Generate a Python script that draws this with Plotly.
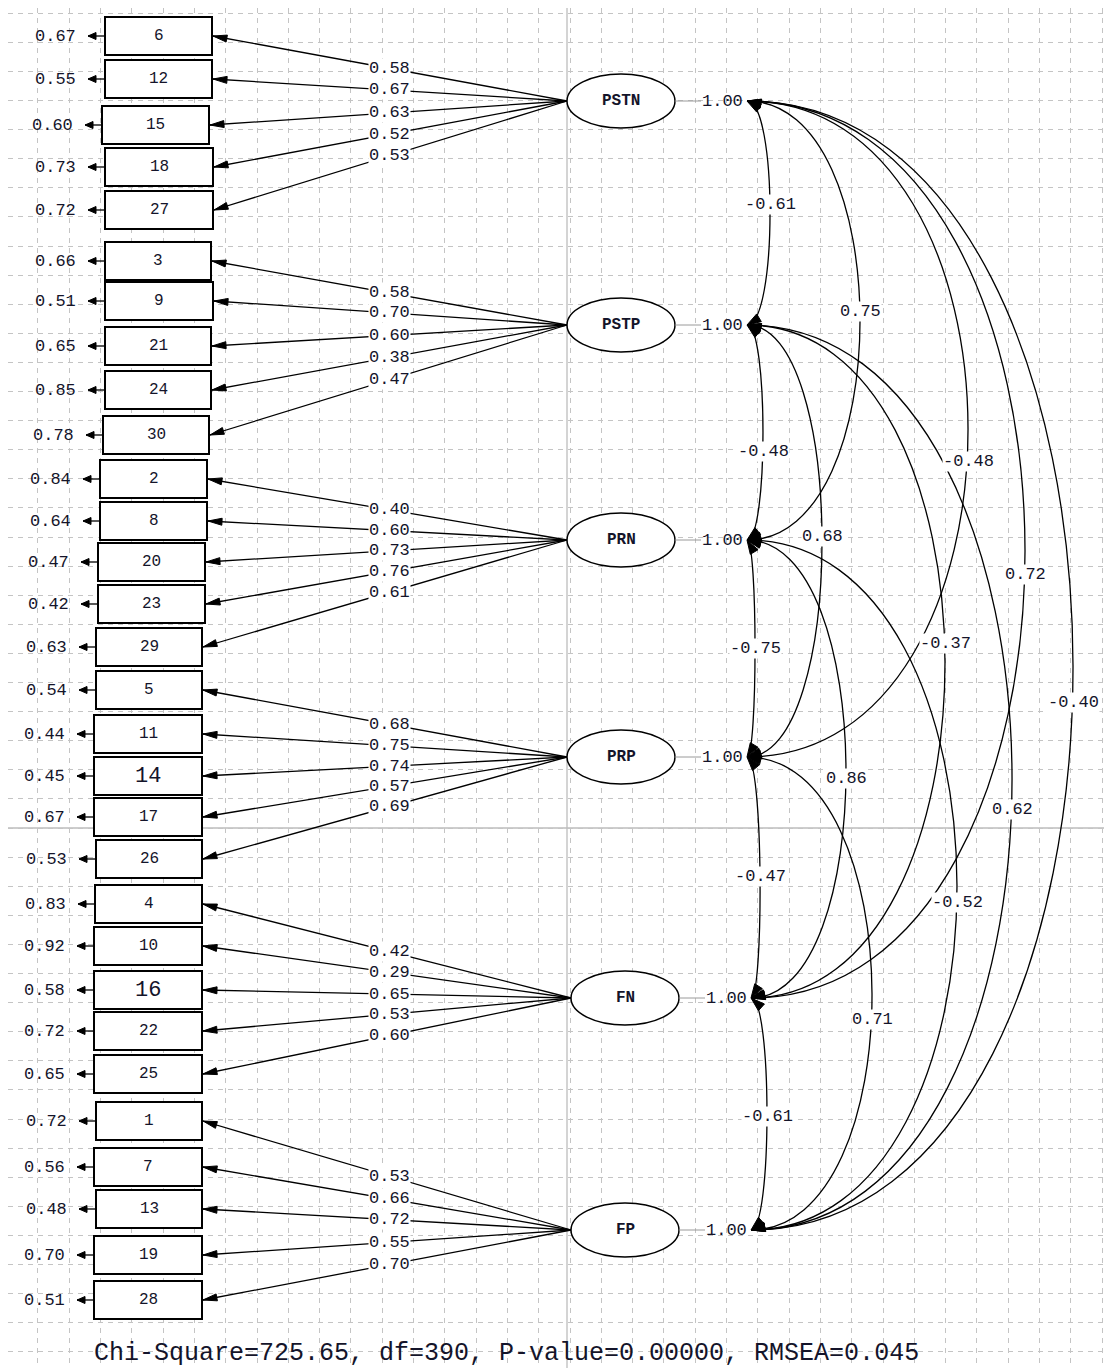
import plotly.graph_objects as go

# ---------------- data ----------------
factors = ["PSTN", "PSTP", "PRN", "PRP", "FN", "FP"]
factor_variances = [1.00, 1.00, 1.00, 1.00, 1.00, 1.00]
indicators = [
    [6, 12, 15, 18, 27],
    [3, 9, 21, 24, 30],
    [2, 8, 20, 23, 29],
    [5, 11, 14, 17, 26],
    [4, 10, 16, 22, 25],
    [1, 7, 13, 19, 28],
]
loadings = [
    [0.58, 0.67, 0.63, 0.52, 0.53],
    [0.58, 0.70, 0.60, 0.38, 0.47],
    [0.40, 0.60, 0.73, 0.76, 0.61],
    [0.68, 0.75, 0.74, 0.57, 0.69],
    [0.42, 0.29, 0.65, 0.53, 0.60],
    [0.53, 0.66, 0.72, 0.55, 0.70],
]
error_variances = [
    [0.67, 0.55, 0.60, 0.73, 0.72],
    [0.66, 0.51, 0.65, 0.85, 0.78],
    [0.84, 0.64, 0.47, 0.42, 0.63],
    [0.54, 0.44, 0.45, 0.67, 0.53],
    [0.83, 0.92, 0.58, 0.72, 0.65],
    [0.72, 0.56, 0.48, 0.70, 0.51],
]
corr_pairs = [(0, 1), (0, 2), (0, 3), (0, 4), (0, 5),
              (1, 2), (1, 3), (1, 4), (1, 5),
              (2, 3), (2, 4), (2, 5),
              (3, 4), (3, 5),
              (4, 5)]
corr_values = [-0.61, 0.75, -0.48, 0.72, -0.40,
               -0.48, 0.68, -0.37, 0.62,
               -0.75, 0.86, -0.52,
               -0.47, 0.71,
               -0.61]
chi_square = 725.65
deg_freedom = 390
p_value = 0.0
rmsea = 0.045

# ---------------- layout (diagram geometry, page pixels) ----------------
W, H = 1112, 1368
PAGE_MARGIN = 8  # default body margin of the html page
factor_cx = [621, 621, 621, 621, 625, 625]
factor_cy = [101, 325, 540, 757, 998, 1230]
ELL_RX, ELL_RY = 54, 27
item_cy = [
    [36, 79, 125, 167, 210],
    [261, 301, 346, 390, 435],
    [479, 521, 562, 604, 647],
    [690, 734, 776, 817, 859],
    [904, 946, 990, 1031, 1074],
    [1121, 1167, 1209, 1255, 1300],
]
box_left = [
    [105, 105, 102, 105, 105],
    [105, 105, 105, 105, 103],
    [100, 100, 98, 98, 96],
    [96, 94, 94, 94, 96],
    [95, 94, 94, 94, 94],
    [96, 94, 96, 94, 94],
]
box_right = [
    [212, 212, 209, 213, 213],
    [211, 213, 211, 211, 209],
    [207, 207, 205, 205, 202],
    [202, 202, 202, 202, 202],
    [202, 202, 202, 202, 202],
    [202, 202, 202, 202, 202],
]
BOX_HALF_H = 19
LOAD_LABEL_X = 389
corr_apex_x = [770, 860, 968, 1025, 1073, 763, 822, 945, 1012, 755, 846, 957, 760, 872, 767]
corr_label_y = [204, 311, 461, 574, 702, 451, 536, 643, 809, 648, 778, 902, 876, 1019, 1116]
large_label_items = [14, 16]

FONT = "Liberation Mono"
TXT = "#14142a"
GRID = "#c4c4c4"
SMALL = 17

shapes = []
annotations = []


def arrow_head(tip, tail, length, half_w):
    dx, dy = tip[0] - tail[0], tip[1] - tail[1]
    n = (dx * dx + dy * dy) ** 0.5
    ux, uy = dx / n, dy / n
    bx, by = tip[0] - ux * length, tip[1] - uy * length
    px, py = -uy * half_w, ux * half_w
    path = "M {:.2f},{:.2f} L {:.2f},{:.2f} L {:.2f},{:.2f} Z".format(
        tip[0], tip[1], bx + px, by + py, bx - px, by - py)
    return dict(type="path", path=path, xref="x", yref="y",
                fillcolor="black", line=dict(color="black", width=1))


def label(x, y, text, size=SMALL, bg=None, bold=False, family=FONT):
    t = "<b>" + text + "</b>" if bold else text
    a = dict(x=x, y=y, xref="x", yref="y", text=t, showarrow=False,
             font=dict(family=family, size=size, color=TXT),
             xanchor="center", yanchor="middle")
    if bg:
        a["bgcolor"] = bg
        a["borderpad"] = 0
    annotations.append(a)


# center reference lines
shapes.append(dict(type="line", x0=567, x1=567, y0=0, y1=H, xref="x", yref="y",
                   line=dict(color="#bdbdbd", width=1.3), layer="below"))
shapes.append(dict(type="line", x0=0, x1=W, y0=828, y1=828, xref="x", yref="y",
                   line=dict(color="#bdbdbd", width=1.3), layer="below"))

# ---------------- measurement part ----------------
for f in range(len(factors)):
    cx, cy = factor_cx[f], factor_cy[f]
    origin = (cx - ELL_RX, cy)
    for k in range(len(indicators[f])):
        iy = item_cy[f][k]
        bl, br = box_left[f][k], box_right[f][k]
        tip = (br + 1, iy)
        # loading line
        shapes.append(dict(type="line", x0=origin[0], y0=origin[1], x1=tip[0], y1=tip[1],
                           xref="x", yref="y", line=dict(color="black", width=1.3)))
        shapes.append(arrow_head(tip, origin, 14, 3.5))
        # loading label on the line
        t = (LOAD_LABEL_X - origin[0]) / (tip[0] - origin[0])
        ly = origin[1] + t * (tip[1] - origin[1])
        label(LOAD_LABEL_X, ly, "{:.2f}".format(loadings[f][k]), bg="white")
        # box
        shapes.append(dict(type="rect", x0=bl, x1=br, y0=iy - BOX_HALF_H, y1=iy + BOX_HALF_H,
                           xref="x", yref="y", fillcolor="white",
                           line=dict(color="black", width=2)))
        item = indicators[f][k]
        if item in large_label_items:
            label((bl + br) / 2, iy, str(item), size=22)
        else:
            label((bl + br) / 2, iy, str(item), size=16)
        # error arrow
        etip = (bl - 17, iy)
        shapes.append(dict(type="line", x0=bl, y0=iy, x1=etip[0], y1=iy, xref="x", yref="y",
                           line=dict(color="black", width=1.3)))
        shapes.append(arrow_head(etip, (bl, iy), 8, 3.5))
        label(bl - 50, iy, "{:.2f}".format(error_variances[f][k]))

    # factor ellipse
    shapes.append(dict(type="circle", x0=cx - ELL_RX, x1=cx + ELL_RX, y0=cy - ELL_RY, y1=cy + ELL_RY,
                       xref="x", yref="y", fillcolor="white", line=dict(color="black", width=1.5)))
    label(cx, cy, factors[f], size=16, bold=True)
    # variance
    shapes.append(dict(type="line", x0=cx + ELL_RX, x1=cx + 80, y0=cy, y1=cy, xref="x", yref="y",
                       line=dict(color="#9a9a9a", width=1)))
    label(cx + 101, cy, "{:.2f}".format(factor_variances[f]))


# ---------------- structural correlations ----------------
def bez(p0, c0, c1, p1, t):
    m = 1 - t
    return (m ** 3 * p0[0] + 3 * m * m * t * c0[0] + 3 * m * t * t * c1[0] + t ** 3 * p1[0],
            m ** 3 * p0[1] + 3 * m * m * t * c0[1] + 3 * m * t * t * c1[1] + t ** 3 * p1[1])


for idx, (a, b) in enumerate(corr_pairs):
    p0 = (factor_cx[a] + 126, factor_cy[a])
    p1 = (factor_cx[b] + 126, factor_cy[b])
    apex = corr_apex_x[idx]
    ctrl_x = (8 * apex - p0[0] - p1[0]) / 6
    c0, c1 = (ctrl_x, p0[1]), (ctrl_x, p1[1])
    path = "M {:.1f},{:.1f} C {:.1f},{:.1f} {:.1f},{:.1f} {:.1f},{:.1f}".format(
        p0[0], p0[1], c0[0], c0[1], c1[0], c1[1], p1[0], p1[1])
    shapes.append(dict(type="path", path=path, xref="x", yref="y",
                       line=dict(color="black", width=1.3)))
    shapes.append(arrow_head(p0, bez(p0, c0, c1, p1, 0.08), 14, 4.5))
    shapes.append(arrow_head(p1, bez(p0, c0, c1, p1, 0.92), 14, 4.5))
    label(apex, corr_label_y[idx], "{:.2f}".format(corr_values[idx]), bg="white")

# fit statistics
label(506, 1353,
      "Chi-Square={:.2f}, df={}, P-value={:.5f}, RMSEA={:.3f}".format(
          chi_square, deg_freedom, p_value, rmsea), size=25)

fig = go.Figure()
fig.update_layout(
    width=W - PAGE_MARGIN, height=H - PAGE_MARGIN, margin=dict(l=0, r=0, t=0, b=0),
    paper_bgcolor="white", plot_bgcolor="white", showlegend=False,
    shapes=shapes, annotations=annotations,
    xaxis=dict(range=[PAGE_MARGIN, W], showticklabels=False, ticks="", zeroline=False,
               showline=False, showgrid=True, tick0=6.6, dtick=31.3, gridcolor=GRID,
               griddash="5px,5px", gridwidth=1, fixedrange=True),
    yaxis=dict(range=[H, PAGE_MARGIN], showticklabels=False, ticks="", zeroline=False,
               showline=False, showgrid=True, tick0=13.2, dtick=29.1, gridcolor=GRID,
               griddash="5px,5px", gridwidth=1, fixedrange=True),
)
fig.write_html("out.html")
